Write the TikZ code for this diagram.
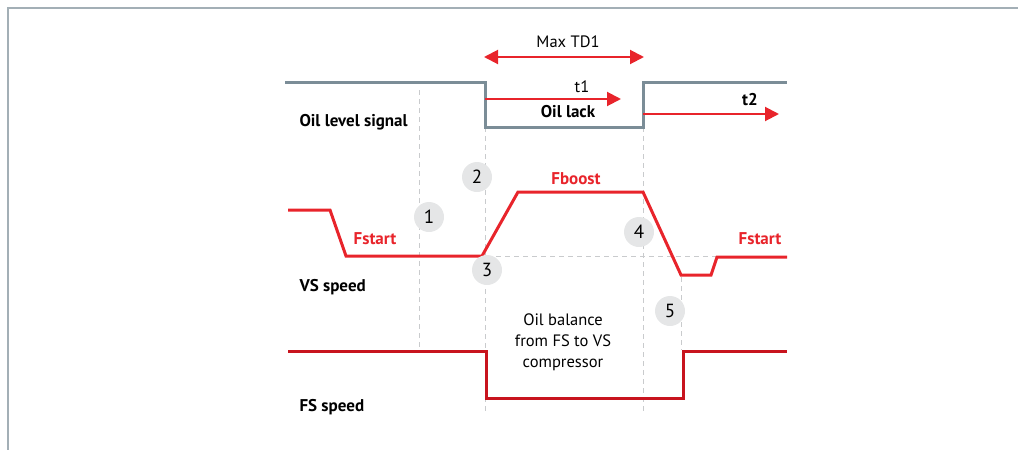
\documentclass[tikz,border=0pt]{standalone}
\usepackage{fontspec}
\setmainfont{PT Sans}
\usetikzlibrary{arrows.meta}
\definecolor{framec}{HTML}{A3AFB6}
\definecolor{sigc}{HTML}{7B8D97}
\definecolor{redc}{HTML}{E8242B}
\definecolor{fsred}{HTML}{C8141E}
\definecolor{dashc}{HTML}{C9CBCD}
\definecolor{circc}{HTML}{E5E6E7}
\begin{document}
\begin{tikzpicture}[x=1pt,y=-1pt,
  sig/.style={draw=sigc,line width=3pt},
  vs/.style={draw=redc,line width=3pt,line join=miter},
  fs/.style={draw=fsred,line width=3pt},
  guide/.style={draw=dashc,line width=1pt,dash pattern=on 5pt off 4pt},
  tarrow/.style={draw=redc,line width=2pt,-{Triangle[length=14pt,width=14pt]}},
  darrow/.style={draw=redc,line width=2pt,{Triangle[length=14pt,width=14pt]}-{Triangle[length=14pt,width=14pt]}},
  lbl/.style={font=\fontsize{17}{20}\selectfont\bfseries,anchor=west},
  rlbl/.style={font=\fontsize{17}{20}\selectfont\bfseries,text=redc},
  txt/.style={font=\fontsize{16.5}{21}\selectfont},
  num/.style={circle,fill=circc,minimum size=30pt,inner sep=0pt,font=\fontsize{19}{20}\selectfont}]
\useasboundingbox (0,0) rectangle (1018,450);
% frame
\draw[framec,line width=1.5pt] (1018,8) -- (8,8) -- (8,450);
% guides
\draw[guide] (419,90) -- (419,350);
\draw[guide] (485,127) -- (485,413);
\draw[guide] (643,127) -- (643,413);
\draw[guide] (681,277) -- (681,350);
\draw[guide] (487,256) -- (787,256);
% oil level signal
\draw[sig] (285,82) -- (485,82) -- (485,127) -- (643,127) -- (643,82) -- (787,82);
% VS speed
\draw[vs] (288,210) -- (330,210) -- (346,256) -- (482,256) -- (518,192) -- (643,192) -- (681,275) -- (711,275) -- (717,257) -- (787,257);
% FS speed
\draw[fs] (288,351) -- (486,351) -- (486,398) -- (683,398) -- (683,351) -- (787,351);
% arrows
\coordinate (tdA) at (484,57); \coordinate (tdB) at (644,57);
\draw[darrow] (tdA) -- (tdB);
\node[txt] (maxtd) at (568,42) {Max TD1};
\coordinate (t1A) at (485,99); \coordinate (t1B) at (621,99);
\draw[tarrow] (t1A) -- (t1B);
\node[txt] (t1) at (582,87) {t1};
\coordinate (t2A) at (643,114); \coordinate (t2B) at (779,114);
\draw[tarrow] (t2A) -- (t2B);
\node[rlbl,text=black] (t2) at (750,100) {t2};
\node[rlbl,text=black] (oillack) at (568,112) {Oil lack};
% labels
\node[lbl] (ols) at (296,122) {Oil level signal};
\node[lbl] (vss) at (296,287) {VS speed};
\node[lbl] (fss) at (296,407) {FS speed};
\node[rlbl] (fs1) at (375,239) {Fstart};
\node[rlbl] (fs2) at (760,239) {Fstart};
\node[rlbl] (fb) at (576,179) {Fboost};
\node[txt,align=center] (bal) at (563,342) {Oil balance\\from FS to VS\\compressor};
% numbers
\node[num] (n1) at (429,217) {1};
\node[num] (n2) at (477,177) {2};
\node[num] (n3) at (487,270) {3};
\node[num] (n4) at (639,232) {4};
\node[num] (n5) at (670,311) {5};
\end{tikzpicture}
\end{document}
